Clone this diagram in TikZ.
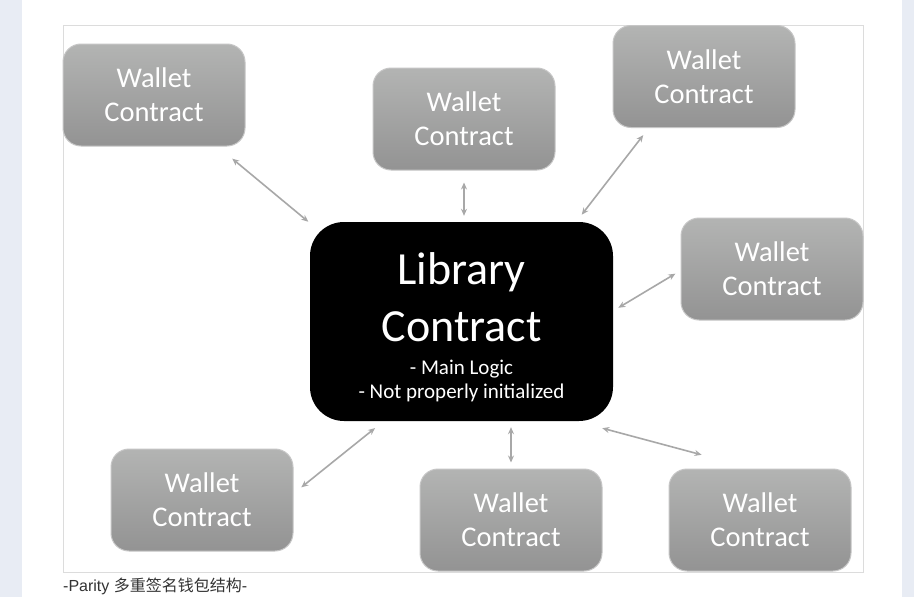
\documentclass[tikz,border=0pt]{standalone}
\usepackage{fontspec}
\setmainfont{Carlito}
\newfontfamily\capfont{Liberation Sans}
\newfontfamily\cjkfont{Noto Sans CJK SC}
\usetikzlibrary{positioning,arrows.meta}

\definecolor{pagebg}{HTML}{E8ECF4}
\definecolor{walltop}{HTML}{B3B4B3}
\definecolor{wallbot}{HTML}{939393}
\definecolor{wallrim}{HTML}{C6C6C6}
\definecolor{linkgray}{HTML}{A8A8A8}
\definecolor{framegray}{HTML}{DCDCDC}
\definecolor{captext}{HTML}{333333}

\tikzset{
    wallet/.style={rectangle, rounded corners=18pt, draw=wallrim, line width=1pt,
        top color=walltop, bottom color=wallbot, minimum width=182pt, minimum height=102pt,
        text=white, align=center, font=\fontsize{28.5}{34}\selectfont},
    library/.style={rectangle, rounded corners=34pt, fill=black, minimum width=303pt,
        minimum height=199pt, text=white, inner sep=0pt},
    link/.style={draw=linkgray, line width=1.6pt, {Stealth[length=7pt,width=6pt]}-{Stealth[length=7pt,width=6pt]}}
}

\begin{document}
\begin{tikzpicture}[x=1pt, y=-1pt]
    % page
    \useasboundingbox (0,0) rectangle (914,597);
    \fill[white] (0,0) rectangle (914,597);
    \fill[pagebg] (0,0) rectangle (22,597);
    \fill[pagebg] (902,0) rectangle (914,597);
    \draw[framegray] (63,25) rectangle (863,572);

    % library in the middle
    \node[library] (lib) at (461.5,321.5) {\parbox{295pt}{\centering\vspace*{12pt}
        \fontsize{46}{57}\selectfont Library\\Contract\par\vspace{9pt}
        \fontsize{21}{24}\selectfont - Main Logic\\- Not properly initialized\par}};

    % wallets around it
    \node[wallet] (w1) at (154,95) {Wallet\\Contract};
    \node[wallet] (w2) at (464,119) {Wallet\\Contract};
    \node[wallet] (w3) at (704,76.5) {Wallet\\Contract};
    \node[wallet] (w4) at (772,269) {Wallet\\Contract};
    \node[wallet] (w5) at (202,500) {Wallet\\Contract};
    \node[wallet] (w6) at (511,520) {Wallet\\Contract};
    \node[wallet] (w7) at (760,520) {Wallet\\Contract};

    % links
    \draw[link, shorten <=19pt, shorten >=2pt] (w1.-39) -- (lib.147);
    \draw[link, shorten <=12pt, shorten >=6pt] (w2.south) -- (w2.south |- lib.north);
    \draw[link, shorten <=9pt, shorten >=9pt] (w3.223) -- (lib.41);
    \draw[link, shorten <=6pt, shorten >=6pt] (w4.181) -- (lib.4);
    \draw[link, shorten <=10pt, shorten >=11pt] (w5.4) -- (lib.232);
    \draw[link, shorten <=6pt, shorten >=6pt] (w6.north) -- (w6.north |- lib.south);
    \draw[link, shorten <=53pt, shorten >=27pt] (w7.98) -- (lib.-41);

    % caption
    \node[anchor=base west, inner sep=0pt, text=captext, font=\capfont\fontsize{16}{16}\selectfont]
        (cap) at (63,591) {-Parity {\cjkfont 多重签名钱包结构}-};
\end{tikzpicture}
\end{document}
